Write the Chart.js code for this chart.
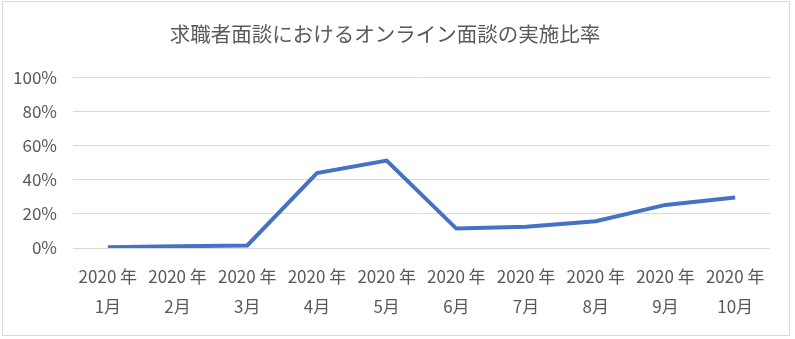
<!DOCTYPE html>
<html>
<head>
<meta charset="utf-8">
<script src="https://cdn.jsdelivr.net/npm/chart.js@4/dist/chart.umd.min.js"></script>
<style>
  html, body { margin: 0; padding: 0; background: #fff; }
  #frame {
    position: absolute; left: 2px; top: 1px; width: 788px; height: 335px;
    border: 1px solid #d9d9d9; box-sizing: border-box;
  }
  #wrap { position: absolute; left: 0; top: 0; width: 795px; height: 339px; }
</style>
</head>
<body>
<div id="frame"></div>
<div id="wrap"><canvas id="chart"></canvas></div>
<script>
// ── データ ──
const chartTitle = '求職者面談におけるオンライン面談の実施比率';
const months = ['1月','2月','3月','4月','5月','6月','7月','8月','9月','10月'];
const yearLabel = '2020 年';
const ratio = [0.005, 0.01, 0.015, 0.44, 0.513, 0.114, 0.125, 0.157, 0.253, 0.296];

const labels = months.map(m => [yearLabel, m]);
const textColor = '#595959';
const font = "'Noto Sans CJK JP', 'Noto Sans', sans-serif";

new Chart(document.getElementById('chart'), {
  type: 'line',
  data: {
    labels: labels,
    datasets: [{
      data: ratio,
      borderColor: '#4472C4',
      borderWidth: 4,
      pointRadius: 0,
      tension: 0,
      fill: false
    }]
  },
  options: {
    responsive: true, maintainAspectRatio: false, animation: false,
    layout: { padding: { left: 0, right: 25, top: 0, bottom: 0 } },
    plugins: {
      legend: { display: false },
      tooltip: { enabled: false },
      title: {
        display: true, text: chartTitle, color: textColor,
        font: { family: font, size: 20.5, weight: 'normal' },
        padding: { top: 22, bottom: 31 }
      }
    },
    scales: {
      y: {
        min: 0, max: 1,
        afterFit: s => { s.width = 73; },
        ticks: {
          stepSize: 0.2, color: textColor, padding: 16,
          font: { family: font, size: 17 },
          callback: v => Math.round(v * 100) + '%'
        },
        grid: { color: '#d9d9d9', drawTicks: false },
        border: { display: false }
      },
      x: {
        offset: true,
        afterFit: s => { s.height = 91; },
        ticks: {
          color: textColor, maxRotation: 0, autoSkip: false, padding: 6,
          font: { family: font, size: 17, lineHeight: 1.76 }
        },
        grid: { display: false },
        border: { display: false }
      }
    }
  }
});
</script>
</body>
</html>
